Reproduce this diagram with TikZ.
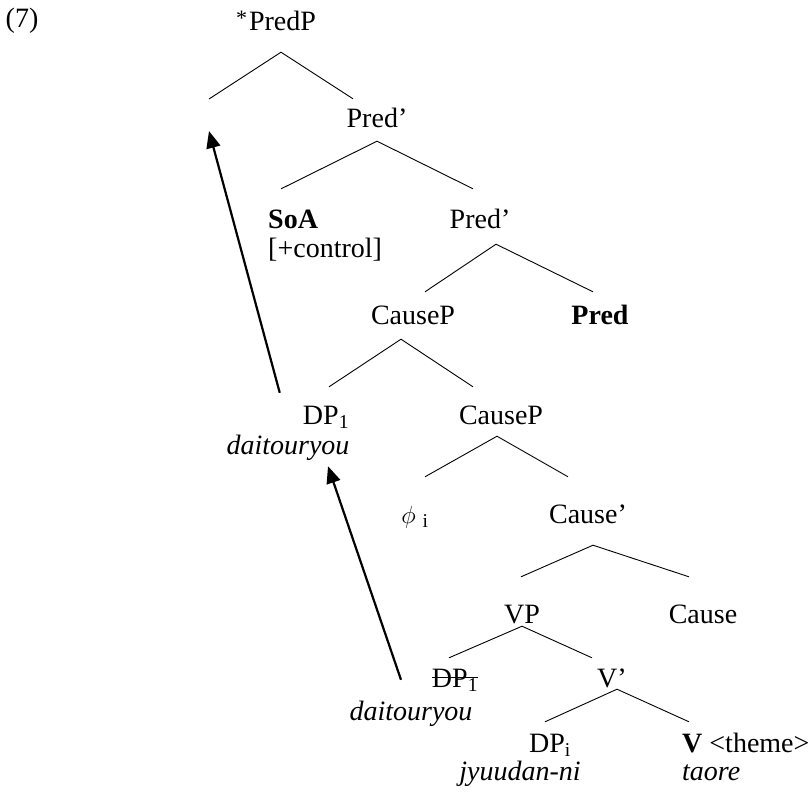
\documentclass[tikz,border=0pt]{standalone}
\usepackage{fontspec}
\setmainfont{Liberation Serif}
\usetikzlibrary{arrows.meta}

\newcommand\strikeout[1]{\setbox0\hbox{#1}\rlap{\rule[0.32em]{\wd0}{0.9pt}}\box0}

\tikzset{
  lbl/.style={inner sep=0pt, text height=19pt, text depth=6pt, anchor=base},
  branch/.style={line width=0.9pt},
  move/.style={line width=2.2pt, -{Triangle[length=17pt,width=14pt]}}
}

\begin{document}
\begin{tikzpicture}[x=1pt,y=-1pt,font=\fontsize{28}{32}\selectfont]
\useasboundingbox (0,0) rectangle (810,795);
\node[lbl] (ex) at (22,27) {(7)};
% tree labels
\node[lbl] (predp) at (276,30) {\raisebox{5pt}{\fontsize{22}{22}\selectfont *}\hspace{2pt}PredP};
\coordinate (spec) at (209,99);
\node[lbl] (predb) at (377,127) {Pred’};
\node[lbl,anchor=base west] (soa) at (268,228) {\textbf{SoA}};
\node[lbl,anchor=base west] (ctrl) at (268,257) {[+control]};
\node[lbl] (predc) at (480,228) {Pred’};
\node[lbl] (causep) at (413,324) {CauseP};
\node[lbl] (pred) at (600,324) {\textbf{Pred}};
\node[lbl] (dpa) at (326,424) {DP\textsubscript{1}};
\node[lbl] (dpaw) at (288,454) {\textit{daitouryou}};
\node[lbl] (causepb) at (501,424) {CauseP};
\node[lbl] (phi) at (415,523) {$\phi$ \textsubscript{i}};
\node[lbl] (causebar) at (588,523) {Cause’};
\node[lbl] (vp) at (522,623) {VP};
\node[lbl] (cause) at (703,623) {Cause};
\node[lbl] (dpb) at (455,687) {\strikeout{DP\textsubscript{1}}};
\node[lbl] (dpbw) at (411,720) {\textit{daitouryou}};
\node[lbl] (vbar) at (612,687) {V’};
\node[lbl] (dpi) at (550,752) {DP\textsubscript{i}};
\node[lbl] (dpiw) at (520,780) {\textit{jyuudan-ni}};
\node[lbl,anchor=base west] (v) at (682,752) {\textbf{V} <theme>};
\node[lbl,anchor=base west] (vw) at (682,780) {\textit{taore}};
% branches
\draw[branch] (spec) -- ([xshift=5pt,yshift=-16pt]predp.south) -- ([xshift=-24pt,yshift=9pt]predb.north);
\draw[branch] ([xshift=-12pt,yshift=20pt]soa.north) -- ([yshift=-8pt]predb.south) -- ([xshift=-7pt,yshift=20pt]predc.north);
\draw[branch] ([xshift=12pt,yshift=13pt]causep.north) -- ([xshift=16pt,yshift=-10pt]predc.south) -- ([xshift=-7pt,yshift=13pt]pred.north);
\draw[branch] ([xshift=3pt,yshift=18pt]dpa.north) -- ([xshift=-12pt,yshift=-9pt]causep.south) -- ([xshift=-28pt,yshift=18pt]causepb.north);
\draw[branch] ([xshift=10pt,yshift=27pt]phi.north) -- ([xshift=-4pt,yshift=-6pt]causepb.south) -- ([xshift=-20pt,yshift=27pt]causebar.north);
\draw[branch] ([xshift=-1pt,yshift=27pt]vp.north) -- ([xshift=5pt,yshift=-16pt]causebar.south) -- ([xshift=-14pt,yshift=27pt]cause.north);
\draw[branch] ([xshift=-6pt,yshift=10pt]dpb.north) -- ([yshift=3pt]vp.south) -- ([xshift=-20pt,yshift=10pt]vbar.north);
\draw[branch] ([xshift=-5pt,yshift=11pt]dpi.north) -- ([xshift=5pt,yshift=4pt]vbar.south) -- ([xshift=7pt,yshift=11pt]v.north west);
% movement
\draw[move] ([xshift=-23pt,yshift=12pt]dpa.north west) -- ([yshift=-32pt]spec);
\draw[move] ([xshift=-10pt,yshift=21pt]dpbw.north) -- ([xshift=40pt,yshift=-6pt]dpaw.south);
\end{tikzpicture}
\end{document}
